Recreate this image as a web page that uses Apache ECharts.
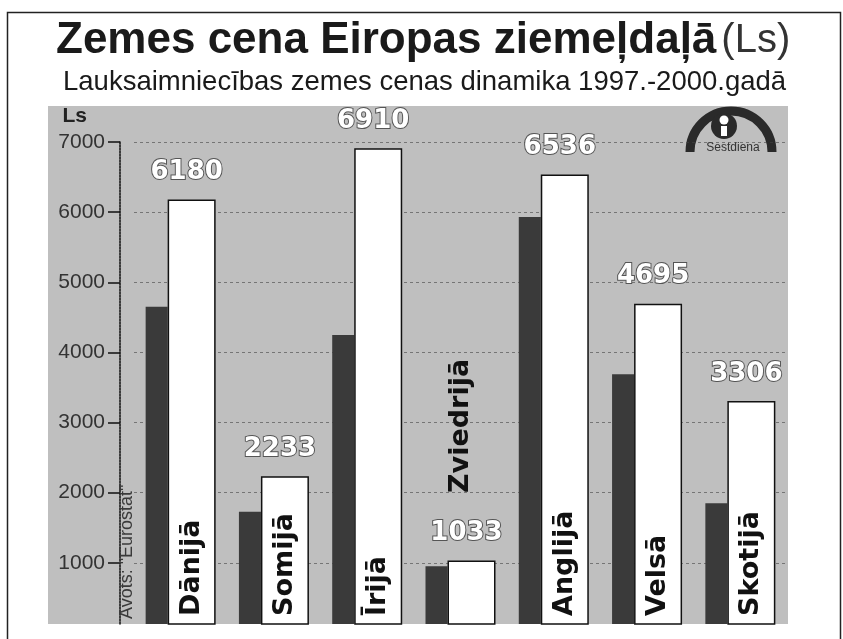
<!DOCTYPE html>
<html>
<head>
<meta charset="utf-8">
<script src="https://cdn.jsdelivr.net/npm/echarts@6/dist/echarts.min.js"></script>
<style>
  html, body { margin: 0; padding: 0; background: #fff; }
  #chart { width: 843px; height: 639px; }
</style>
</head>
<body>
<div id="chart"></div>
<script>
var countries = ['Dānijā', 'Somijā', 'Īrijā', 'Zviedrijā', 'Anglijā', 'Velsā', 'Skotijā']
var price1997 = [4650, 1730, 4250, 950, 5930, 3690, 1850]
var price2000 = [6180, 2233, 6910, 1033, 6536, 4695, 3306]
var yTicks = [1000, 2000, 3000, 4000, 5000, 6000, 7000]

var chart = echarts.init(document.getElementById('chart'))

// short white bars get their name lifted above the value label
var xData = countries.map(function (name, i) {
  if (price2000[i] < 1500) {
    return { value: name, textStyle: { verticalAlign: 'middle', lineHeight: 30, padding: [0, 0, 0, 123] } }
  }
  return name
})

chart.setOption({
  backgroundColor: '#fff',
  animation: false,
  title: [{
    left: 56,
    top: 19,
    padding: 0,
    text: '{b|Zemes cena Eiropas ziemeļdaļā} {r|(Ls)}',
    textStyle: {
      rich: {
        b: { fontFamily: 'Liberation Sans', fontWeight: 'bold', fontSize: 44, color: '#1a1a1a' },
        r: { fontFamily: 'Liberation Sans', fontWeight: 'normal', fontSize: 40, color: '#333' }
      }
    }
  }, {
    left: 63,
    top: 68,
    padding: 0,
    text: 'Lauksaimniecības zemes cenas dinamika 1997.-2000.gadā',
    textStyle: { fontFamily: 'Liberation Sans', fontWeight: 'normal', fontSize: 27.5, color: '#1a1a1a' }
  }],
  graphic: [
    // outer frame
    { type: 'rect', left: 5, top: 10, z: -20, silent: true,
      shape: { width: 833, height: 700 },
      style: { fill: 'none', stroke: '#222', lineWidth: 1.5 } },
    // grey panel
    { type: 'rect', left: 48, top: 106, z: -10, silent: true,
      shape: { width: 740, height: 518 },
      style: { fill: '#bfbfbf' } },
    // logo
    { type: 'arc', silent: true,
      shape: { cx: 731, cy: 152, r: 41, startAngle: Math.PI, endAngle: Math.PI * 2 },
      style: { stroke: '#2a2a2a', lineWidth: 9, fill: 'none' } },
    { type: 'circle', silent: true, shape: { cx: 724, cy: 126, r: 13 }, style: { fill: '#2a2a2a' } },
    { type: 'circle', silent: true, shape: { cx: 724, cy: 120, r: 4.5 }, style: { fill: '#fff' } },
    { type: 'rect', silent: true, shape: { x: 721, y: 126, width: 6, height: 10 }, style: { fill: '#fff' } },
    { type: 'text', silent: true, x: 733, y: 148,
      style: { text: 'Sestdiena', font: '12px "Liberation Sans"', fill: '#333', align: 'center', verticalAlign: 'middle' } },
    // source, rotated along the axis
    { type: 'text', silent: true, x: 127, y: 619, rotation: Math.PI / 2, z: 10,
      style: { text: 'Avots: "Eurostat"', font: '18px "Liberation Sans"', fill: '#3a3a3a', align: 'left', verticalAlign: 'middle' } }
  ],
  grid: {
    left: 134,
    right: 56,
    top: 142,
    bottom: 15
  },
  xAxis: {
    type: 'category',
    data: xData,
    z: 10,
    axisLine: { show: false },
    axisTick: { show: false },
    axisLabel: {
      inside: true,
      rotate: 90,
      interval: 0,
      margin: 8,
      align: 'left',
      verticalAlign: 'top',
      lineHeight: 22,
      fontFamily: 'DejaVu Sans',
      fontWeight: 'bold',
      fontSize: 27,
      color: '#111'
    }
  },
  yAxis: {
    type: 'value',
    min: 128,
    max: 7000,
    splitNumber: 7,
    offset: 14,
    name: 'Ls',
    nameLocation: 'end',
    nameGap: 15,
    nameTextStyle: {
      fontFamily: 'Liberation Sans',
      fontWeight: 'bold',
      fontSize: 21,
      color: '#222',
      align: 'right',
      verticalAlign: 'bottom',
      padding: [0, 33, 0, 0]
    },
    axisLine: { show: true, lineStyle: { color: '#111', width: 1.5, type: [2, 1] } },
    axisTick: { show: true, length: 12, customValues: yTicks, lineStyle: { color: '#111', width: 1.5 } },
    axisLabel: {
      customValues: yTicks,
      margin: 15,
      formatter: function (v) { return String(v) },
      fontFamily: 'Liberation Sans',
      fontSize: 21,
      color: '#333'
    },
    splitLine: { show: true, lineStyle: { color: '#444', width: 1, type: [3, 3], opacity: 0.6 } }
  },
  series: [{
    name: '1997',
    type: 'bar',
    data: price1997,
    barWidth: 22,
    barGap: 0,
    itemStyle: { color: '#3a3a3a' }
  }, {
    name: '2000',
    type: 'bar',
    data: price2000,
    barWidth: 48,
    barGap: 0,
    itemStyle: { color: '#fff', borderColor: '#111', borderWidth: 1.5 },
    label: {
      show: true,
      position: 'top',
      distance: 14,
      offset: [-5, 0],
      fontFamily: 'DejaVu Sans',
      fontWeight: 'bold',
      fontSize: 26,
      color: '#fff',
      textBorderColor: '#555',
      textBorderWidth: 2
    }
  }]
})
</script>
</body>
</html>
